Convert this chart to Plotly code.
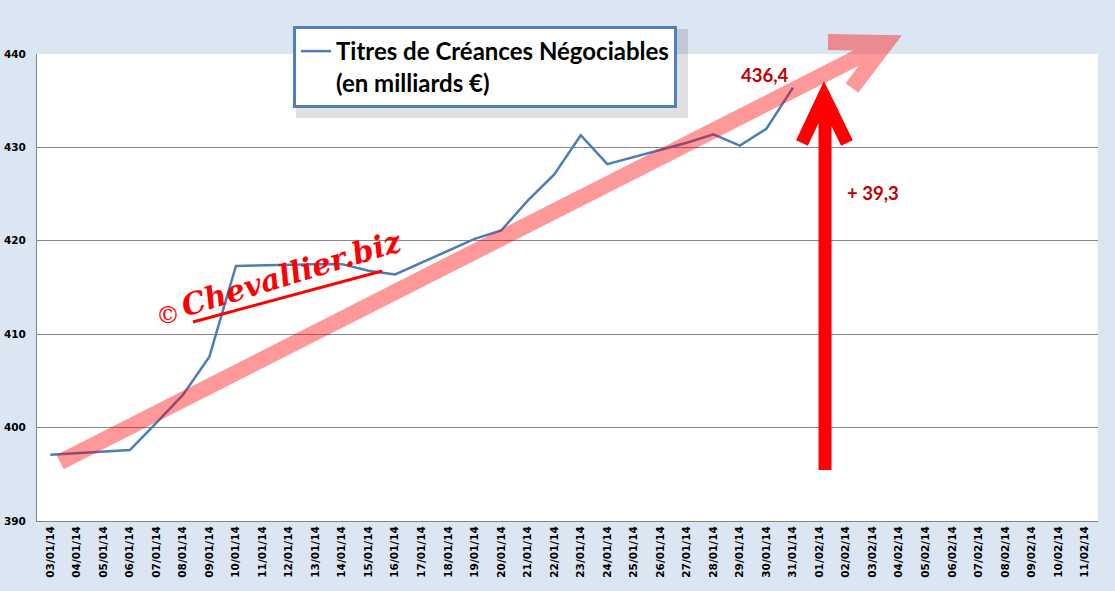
import plotly.graph_objects as go
from datetime import date, timedelta

# x axis categories: every day from 03/01/14 to 11/02/14
day0 = date(2014, 1, 3)
categories = [(day0 + timedelta(days=i)).strftime("%d/%m/%y") for i in range(40)]

# TCN outstanding (billions EUR)
tcn_dates = ["03/01/14", "06/01/14", "07/01/14", "08/01/14", "09/01/14", "10/01/14",
             "13/01/14", "14/01/14", "15/01/14", "16/01/14", "19/01/14", "20/01/14",
             "21/01/14", "22/01/14", "23/01/14", "24/01/14", "27/01/14", "28/01/14",
             "29/01/14", "30/01/14", "31/01/14"]
tcn_values = [397.1, 397.6, 400.5, 403.5, 407.6, 417.3,
              417.5, 417.5, 416.8, 416.4, 420.2, 421.1,
              424.3, 427.1, 431.3, 428.2, 430.5, 431.4,
              430.2, 432.0, 436.4]

series_name = "Titres de Créances Négociables<br>(en milliards €)"

W, H = 1115, 591
L, R, T, B = 37, 17, 54, 70
PW, PH = W - L - R, H - T - B


def px(x, y):
    # pixel position -> paper coords (for the hand-drawn decorations)
    return (x - L) / PW, (H - B - y) / PH


def path(*segments):
    out = []
    for seg in segments:
        for i, (x, y) in enumerate(seg):
            u, v = px(x, y)
            out.append(("M" if i == 0 else "L") + f"{u:.4f},{v:.4f}")
    return " ".join(out)


fig = go.Figure()
fig.add_trace(go.Scatter(x=tcn_dates, y=tcn_values, mode="lines", name=series_name,
                         line=dict(color="#4a7ebb", width=2.5)))

tick_font = dict(family="DejaVu Sans", size=10.5, color="black", weight="bold")
fig.update_layout(
    width=W, height=H, autosize=False,
    margin=dict(l=L, r=R, t=T, b=B, autoexpand=False),
    paper_bgcolor="#dce6f2", plot_bgcolor="white",
    showlegend=True,
    legend=dict(x=px(293, 0)[0], y=px(0, 26)[1], xanchor="left", yanchor="top",
                bgcolor="white", bordercolor="#4f81bd", borderwidth=3,
                font=dict(family="Lato", size=24, color="black", weight="bold"),
                itemwidth=30, valign="top"),
    xaxis=dict(type="category", categoryorder="array", categoryarray=categories,
               tickvals=categories, range=[-0.5, len(categories) - 0.5],
               tickangle=-90, tickfont=tick_font, showgrid=False, automargin=False,
               showline=True, linecolor="#868686", ticks=""),
    yaxis=dict(range=[390, 440], dtick=10, tickfont=tick_font, showgrid=True,
               gridcolor="#868686", gridwidth=1, showline=True, linecolor="#868686",
               ticks="", ticklabelstandoff=8, zeroline=False, automargin=False),
)

# legend drop shadow
fig.add_shape(type="rect", xref="paper", yref="paper",
              x0=px(296, 0)[0], x1=px(688, 0)[0], y0=px(0, 118)[1], y1=px(0, 29)[1],
              fillcolor="rgba(0,0,0,0.12)", line_width=0, layer="above")

# big pink trend arrow
fig.add_shape(type="path", xref="paper", yref="paper",
              path=path([(60, 462), (884, 44)], [(828, 42), (886, 43), (852, 88)]),
              line=dict(color="rgba(255,0,0,0.4)", width=16), layer="above")

# red vertical arrow
fig.add_shape(type="path", xref="paper", yref="paper",
              path=path([(825, 470), (825, 102)], [(802, 143), (824, 96), (847, 143)]),
              line=dict(color="#ff0000", width=13), layer="above")

# last value label and change since start
last_val = tcn_values[-1]
delta = tcn_values[-1] - tcn_values[0]
label_font = dict(family="Lato", size=18.5, color="#c00000", weight="bold")
fig.add_annotation(x=tcn_dates[-1], y=last_val, text=f"{last_val:.1f}".replace(".", ","),
                   showarrow=False, xshift=-28, yshift=13, font=label_font)
u, v = px(845, 180)
fig.add_annotation(x=u, y=v, xref="paper", yref="paper", xanchor="left",
                   text="+ " + f"{delta:.1f}".replace(".", ","),
                   showarrow=False, font=label_font)

# watermark
wm_font = dict(family="DejaVu Serif", size=30, color="#ff0000", style="italic", weight="bold")
u, v = px(291, 273)
fig.add_annotation(x=u, y=v, xref="paper", yref="paper", text="Chevallier.biz",
                   xanchor="center", yanchor="middle",
                   textangle=-17, showarrow=False, font=wm_font)
u, v = px(168, 315)
fig.add_annotation(x=u, y=v, xref="paper", yref="paper", text="©",
                   xanchor="center", yanchor="middle",
                   showarrow=False, font=dict(family="DejaVu Serif", size=24, color="#ff0000"))
fig.add_shape(type="path", xref="paper", yref="paper",
              path=path([(193, 322), (382, 271)]),
              line=dict(color="#ff0000", width=3), layer="above")

# page without the default body margin
fig.write_html("out.html", config={"displayModeBar": False},
               post_script="document.body.style.margin='0';")
